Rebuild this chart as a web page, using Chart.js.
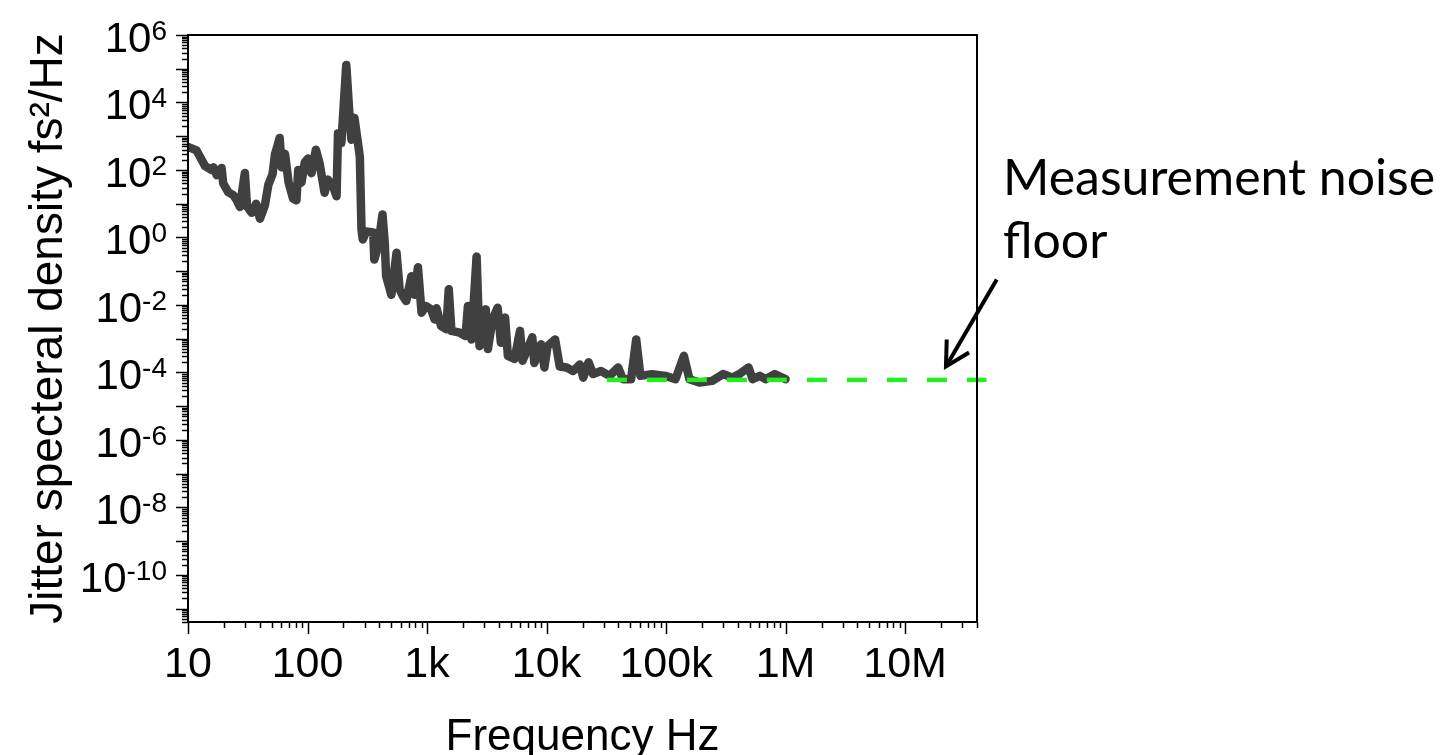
<!DOCTYPE html>
<html>
<head>
<meta charset="utf-8">
<script src="https://cdn.jsdelivr.net/npm/chart.js@4.4.1/dist/chart.umd.min.js"></script>
<style>
  html, body { margin: 0; padding: 0; background: #ffffff; }
  canvas { display: block; }
</style>
</head>
<body>
<canvas id="jitterChart" width="1451" height="755"></canvas>
<script>
// frequência (Hz) e densidade espectral de jitter (fs^2/Hz)
const freqHz = [
  10, 11.8, 13.0, 13.9, 15.8, 16.3, 17.4, 19.1, 19.7, 21.7, 23.9, 25.5, 27.2, 28.1, 29.9,
  31.2, 34.1, 37.2, 40, 44, 47, 51, 53.5, 55.5, 58.5, 60.8, 64.8, 69.5, 75.8, 80.8,
  83.6, 89, 95, 101, 108, 117.5, 126, 139, 148, 164, 175, 180, 192, 199, 211,
  225, 233, 247, 274, 283, 290, 310, 355, 362, 390, 424, 443, 455, 503, 556,
  590, 630, 670, 740, 785, 840, 900, 980, 1080, 1160, 1200, 1310, 1450, 1520, 1600,
  1880, 2100, 2200, 2350, 2600, 2750, 3100, 3230, 3530, 3900, 4150, 4500, 4750, 5400, 6000,
  6300, 7600, 7900, 9000, 9600, 10200, 11800, 12900, 14700, 16700, 19000, 20300, 22500, 24500, 28500,
  33700, 39700, 43600, 51000, 56300, 61000, 76000, 99000, 120000, 141000, 157000, 190000, 243000, 300000, 360000,
  410000, 490000, 530000, 610000, 680000, 810000, 1000000
];
const psdFs2 = [
  480, 380, 200, 130, 100, 120, 70, 115, 40, 22, 18, 13, 8, 18, 81,
  8.3, 5.4, 10, 3.6, 9, 36, 75, 300, 450, 890, 120, 300, 42, 14, 12.6,
  100, 42, 170, 220, 80, 400, 160, 21, 52, 32, 16.6, 1230, 630, 4800, 1.3e5,
  3800, 790, 3500, 250, 1.7, 0.87, 1.5, 1.4, 0.22, 0.55, 4.8, 0.69, 0.071, 0.02, 0.35,
  0.029, 0.018, 0.013, 0.071, 0.02, 0.13, 0.0059, 0.0093, 0.0074, 0.0037, 0.008, 0.0024, 0.0019, 0.029, 0.0017,
  0.0015, 0.0012, 0.0093, 0.00095, 0.27, 0.0006, 0.0074, 0.00049, 0.0037, 0.0083, 0.00076, 0.0042, 0.00031, 0.00025, 0.0017,
  0.00022, 0.0011, 0.00019, 0.00068, 0.00014, 0.0006, 0.00095, 0.00015, 0.00014, 0.00011, 0.00017, 0.00007, 0.0002, 0.000089, 0.00011,
  0.000079, 0.00014, 0.000063, 0.000063, 0.00095, 0.000079, 0.000089, 0.000079, 0.000063, 0.00031, 0.000063, 0.00005, 0.000056, 0.000089, 0.00007,
  0.000089, 0.00014, 0.000063, 0.000079, 0.000063, 0.000089, 0.000063
];

// piso de ruído da medição (linha tracejada verde)
const noiseFloorHz = [3.2e4, 4.8e7];
const noiseFloorFs2 = [6e-5, 6e-5];

// eixos
const xTickValues = [10, 100, 1e3, 1e4, 1e5, 1e6, 1e7];
const xTickLabels = ['10', '100', '1k', '10k', '100k', '1M', '10M'];
const yTickExponents = [6, 4, 2, 0, -2, -4, -6, -8, -10];
const xMin = 10, xMax = 4e7;
const yMin = 4e-12, yMax = 1e6;

// seta da anotação (cauda -> ponta), em coordenadas de dados
const arrowTail = { x: 5.85e7, y: 0.057 };
const arrowTip = { x: 2.2e7, y: 1.5e-4 };
const noteLines = ['Measurement noise', 'floor'];

document.addEventListener('DOMContentLoaded', function () {
  createChart();
});

function minorValues(lo, hi) {
  const out = [];
  for (let e = Math.floor(Math.log10(lo)); e <= Math.ceil(Math.log10(hi)); e++) {
    for (let k = 1; k <= 9; k++) {
      const v = k * Math.pow(10, e);
      if (v >= lo * 0.999 && v <= hi * 1.001) out.push({ v: v, major: k === 1 });
    }
  }
  return out;
}

const framePlugin = {
  id: 'frame',
  afterDraw(chart) {
    const ctx = chart.ctx;
    const area = chart.chartArea;
    const xs = chart.scales.x;
    const ys = chart.scales.y;
    ctx.save();
    ctx.strokeStyle = '#000000';
    ctx.fillStyle = '#000000';

    // caixa do gráfico
    ctx.lineWidth = 2;
    ctx.strokeRect(area.left, area.top, area.right - area.left, area.bottom - area.top);

    // marcas dos eixos (para fora)
    ctx.lineWidth = 1.5;
    minorValues(xMin, xMax).forEach(t => {
      const px = Math.round(xs.getPixelForValue(t.v)) + 0.5;
      ctx.beginPath();
      ctx.moveTo(px, area.bottom);
      ctx.lineTo(px, area.bottom + (t.major ? 12 : 6));
      ctx.stroke();
    });
    minorValues(yMin, yMax).forEach(t => {
      const py = Math.round(ys.getPixelForValue(t.v)) + 0.5;
      ctx.beginPath();
      ctx.moveTo(area.left, py);
      ctx.lineTo(area.left - (t.major ? 12 : 6), py);
      ctx.stroke();
    });

    // rótulos do eixo x
    ctx.font = '43px "Liberation Sans", Arial, sans-serif';
    ctx.textAlign = 'center';
    ctx.textBaseline = 'alphabetic';
    xTickValues.forEach((v, i) => {
      ctx.fillText(xTickLabels[i], xs.getPixelForValue(v), area.bottom + 55);
    });

    // rótulos do eixo y: 10 com expoente sobrescrito
    ctx.textAlign = 'right';
    const labelRight = area.left - 21;
    yTickExponents.forEach(e => {
      const py = ys.getPixelForValue(Math.pow(10, e));
      ctx.font = '28px "Liberation Sans", Arial, sans-serif';
      const expText = String(e);
      const expW = ctx.measureText(expText).width;
      ctx.fillText(expText, labelRight, py + 5);
      ctx.font = '42px "Liberation Sans", Arial, sans-serif';
      ctx.fillText('10', labelRight - expW, py + 17);
    });

    // títulos dos eixos
    ctx.textAlign = 'center';
    ctx.font = '44px "Liberation Sans", Arial, sans-serif';
    ctx.fillText('Frequency Hz', (area.left + area.right) / 2, 750);

    ctx.save();
    ctx.translate(62, (area.top + area.bottom) / 2);
    ctx.rotate(-Math.PI / 2);
    ctx.font = '46px "Liberation Sans", Arial, sans-serif';
    ctx.fillText('Jitter specteral density fs\u00B2/Hz', 0, 0);
    ctx.restore();

    // anotação
    ctx.textAlign = 'left';
    ctx.font = '50px Lato, "Open Sans", sans-serif';
    ctx.fillText(noteLines[0], area.right + 26, area.top + 160);
    ctx.fillText(noteLines[1], area.right + 26, area.top + 223);

    const tx = xs.getPixelForValue(arrowTail.x), ty = ys.getPixelForValue(arrowTail.y);
    const hx = xs.getPixelForValue(arrowTip.x), hy = ys.getPixelForValue(arrowTip.y);
    const ang = Math.atan2(ty - hy, tx - hx);
    ctx.lineWidth = 4;
    ctx.lineCap = 'butt';
    ctx.beginPath();
    ctx.moveTo(tx, ty);
    ctx.lineTo(hx, hy);
    ctx.stroke();
    ctx.beginPath();
    ctx.moveTo(hx + 27 * Math.cos(ang - 0.5), hy + 27 * Math.sin(ang - 0.5));
    ctx.lineTo(hx, hy);
    ctx.lineTo(hx + 27 * Math.cos(ang + 0.5), hy + 27 * Math.sin(ang + 0.5));
    ctx.stroke();

    ctx.restore();
  }
};

function createChart() {
  const ctx = document.getElementById('jitterChart');
  new Chart(ctx, {
    type: 'line',
    data: {
      datasets: [
        {
          label: 'Measurement noise floor',
          data: noiseFloorHz.map((f, i) => ({ x: f, y: noiseFloorFs2[i] })),
          borderColor: '#22ee22',
          borderWidth: 4.5,
          borderDash: [20, 20],
          pointRadius: 0,
          clip: false,
          order: 0
        },
        {
          label: 'Jitter spectral density',
          data: freqHz.map((f, i) => ({ x: f, y: psdFs2[i] })),
          borderColor: '#404040',
          borderWidth: 8.5,
          borderJoinStyle: 'round',
          borderCapStyle: 'round',
          pointRadius: 0,
          tension: 0,
          order: 1
        }
      ]
    },
    options: {
      responsive: false,
      animation: false,
      events: [],
      layout: { padding: { left: 0, top: 35, right: 474, bottom: 0 } },
      plugins: {
        legend: { display: false },
        tooltip: { enabled: false }
      },
      scales: {
        x: {
          type: 'logarithmic',
          min: xMin,
          max: xMax,
          grid: { display: false },
          border: { display: false },
          ticks: { display: false },
          afterFit: scale => { scale.height = 133; }
        },
        y: {
          type: 'logarithmic',
          min: yMin,
          max: yMax,
          grid: { display: false },
          border: { display: false },
          ticks: { display: false },
          afterFit: scale => { scale.width = 188; }
        }
      }
    },
    plugins: [framePlugin]
  });
}
</script>
</body>
</html>
